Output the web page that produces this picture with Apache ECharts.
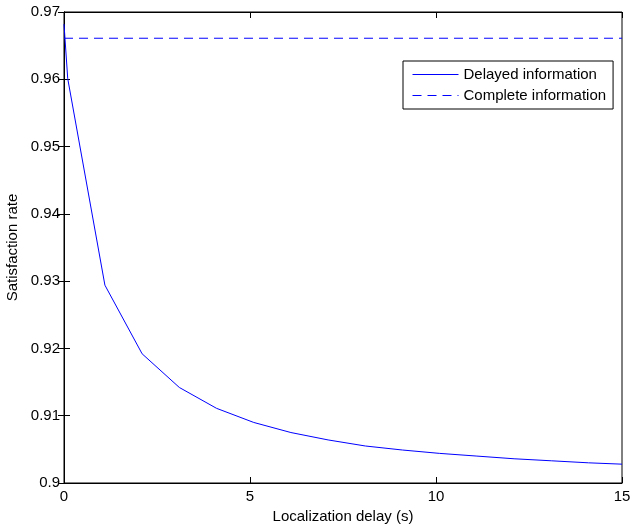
<!DOCTYPE html>
<html>
<head>
<meta charset="utf-8">
<script src="https://cdn.jsdelivr.net/npm/echarts@6/dist/echarts.min.js"></script>
<style>html,body{margin:0;padding:0;background:#fff}#c{width:630px;height:525px}</style>
</head>
<body>
<div id="c"></div>
<script>
var delayX = [0, 0.1, 1.1, 2.1, 3.1, 4.1, 5.1, 6.1, 7.1, 8.1, 9.1, 10.1, 11.1, 12.1, 13.1, 14.1, 15];
var delayedInfo = [0.9682, 0.9601, 0.9294, 0.9192, 0.9142, 0.9111, 0.9090, 0.9075, 0.9064, 0.9055, 0.9049, 0.9044, 0.9040, 0.9036, 0.9033, 0.9030, 0.9028];
var completeX = [0, 15];
var completeInfo = [0.9661, 0.9661];
var xTicks = [0, 5, 10, 15];
var yTicks = [0.9, 0.91, 0.92, 0.93, 0.94, 0.95, 0.96, 0.97];

var font = 'Liberation Sans, Arial, Helvetica, sans-serif';
var chart = echarts.init(document.getElementById('c'));
function pairs(xs, ys){ return xs.map(function(x,i){return [x, ys[i]];}); }
var tickStyle = {show:true, inside:true, length:6, lineStyle:{color:'#000', width:1}};
chart.setOption({
  animation:false,
  backgroundColor:'#fff',
  grid:{left:64, right:8, top:12, bottom:42, show:true, borderColor:'#000', borderWidth:1,
        backgroundColor:'transparent', outerBoundsMode:'none', containLabel:false},
  legend:{
    orient:'vertical', left:403, top:61, width:190,
    backgroundColor:'#fff', borderColor:'#000', borderWidth:1,
    padding:[6, 7, 6, 9], itemWidth:46, itemHeight:14, itemGap:6,
    itemStyle:{opacity:0, borderWidth:0},
    lineStyle:{width:1},
    textStyle:{fontFamily:font, fontSize:15, color:'#000'},
    data:['Delayed information','Complete information']
  },
  xAxis:[{
    type:'value', min:0, max:15, interval:5, position:'bottom',
    name:'Localization delay (s)', nameLocation:'middle', nameGap:25,
    nameTextStyle:{fontFamily:font, fontSize:15, color:'#000'},
    axisLine:{show:true, lineStyle:{color:'#000'}},
    axisTick:tickStyle,
    axisLabel:{fontFamily:font, fontSize:15, color:'#000', margin:6,
      formatter:function(v){return xTicks.indexOf(v)>=0 ? String(v) : '';}},
    splitLine:{show:false}
  },{
    type:'value', min:0, max:15, interval:5, position:'top',
    axisLine:{show:true, lineStyle:{color:'#000'}},
    axisTick:tickStyle, axisLabel:{show:false}, splitLine:{show:false}
  }],
  yAxis:[{
    type:'value', min:0.9, max:0.97, interval:0.01, position:'left',
    name:'Satisfaction rate', nameLocation:'middle', nameGap:44,
    nameTextStyle:{fontFamily:font, fontSize:15, color:'#000'},
    axisLine:{show:true, lineStyle:{color:'#000'}},
    axisTick:tickStyle,
    axisLabel:{fontFamily:font, fontSize:15, color:'#000', margin:4,
      formatter:function(v){
        for (var i=0;i<yTicks.length;i++){ if (Math.abs(yTicks[i]-v)<1e-9) return String(yTicks[i]); }
        return '';
      }},
    splitLine:{show:false}
  },{
    type:'value', min:0.9, max:0.97, interval:0.01, position:'right',
    axisLine:{show:true, lineStyle:{color:'#000'}},
    axisTick:tickStyle, axisLabel:{show:false}, splitLine:{show:false}
  }],
  series:[{
    name:'Delayed information', type:'line', xAxisIndex:0, yAxisIndex:0,
    data:pairs(delayX, delayedInfo), showSymbol:false, symbol:'none',
    lineStyle:{color:'#0000ff', width:1}, itemStyle:{color:'#0000ff'}
  },{
    name:'Complete information', type:'line', xAxisIndex:0, yAxisIndex:0,
    data:pairs(completeX, completeInfo), showSymbol:false, symbol:'none',
    lineStyle:{color:'#0000ff', width:1, type:[9,6]}, itemStyle:{color:'#0000ff'}
  }]
});
</script>
</body>
</html>
